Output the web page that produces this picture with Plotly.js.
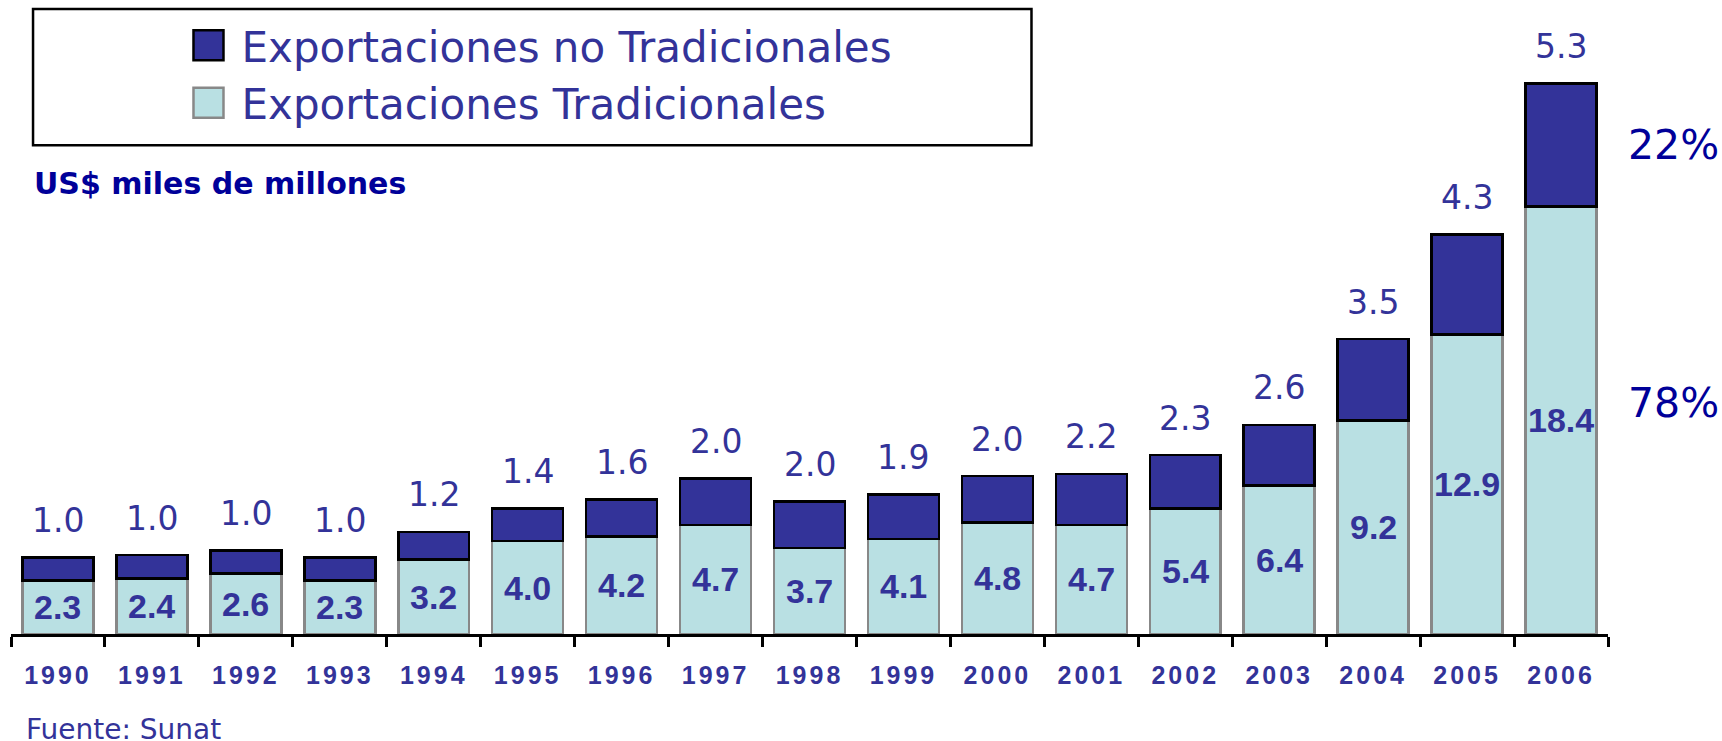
<!DOCTYPE html>
<html>
<head>
<meta charset="utf-8">
<script src="https://cdn.plot.ly/plotly-3.0.1.min.js"></script>
<style>
  html, body { margin: 0; padding: 0; background: #fff; }
  #chart { width: 1722px; height: 741px; }
  .xtick text { letter-spacing: 3px; }
</style>
</head>
<body>
<div id="chart"></div>
<script>
// Peru exports, US$ billions (Fuente: Sunat)
const years = ['1990', '1991', '1992', '1993', '1994', '1995', '1996', '1997', '1998',
               '1999', '2000', '2001', '2002', '2003', '2004', '2005', '2006'];
const tradicionales = [2.3, 2.4, 2.6, 2.3, 3.2, 4.0, 4.2, 4.7, 3.7, 4.1, 4.8, 4.7, 5.4, 6.4, 9.2, 12.9, 18.4];
const noTradicionales = [1.0, 1.0, 1.0, 1.0, 1.2, 1.4, 1.6, 2.0, 2.0, 1.9, 2.0, 2.2, 2.3, 2.6, 3.5, 4.3, 5.3];

const NAVY = '#333399';
const DEEP = '#000099';
const TAHOMA = '"DejaVu Sans", sans-serif';
const ARIAL = '"Liberation Sans", Arial, sans-serif';

const traceTrad = {
    x: years, y: tradicionales,
    type: 'bar',
    name: 'Exportaciones Tradicionales',
    marker: { color: '#B9E0E3', line: { color: '#888888', width: 2.5 } },
    hoverinfo: 'skip',
};

const traceNoTrad = {
    x: years, y: noTradicionales,
    type: 'bar',
    name: 'Exportaciones no Tradicionales',
    marker: { color: NAVY, line: { color: '#000000', width: 2.5 } },
    hoverinfo: 'skip',
};

const annotations = [];

// value labels: inside traditional segment and above each stack
// (x given as category index so the axis stays categorical)
years.forEach((yr, i) => {
    annotations.push({
        x: i, y: tradicionales[i] / 2,
        text: tradicionales[i].toFixed(1),
        showarrow: false,
        font: { family: ARIAL, size: 34, color: NAVY, weight: 'bold' },
    });
    annotations.push({
        x: i, y: tradicionales[i] + noTradicionales[i],
        text: noTradicionales[i].toFixed(1),
        showarrow: false, yshift: 37,
        font: { family: TAHOMA, size: 33, color: NAVY },
    });
});

// share of the last year
const last = years.length - 1;
const total = tradicionales[last] + noTradicionales[last];
annotations.push({
    xref: 'paper', x: 1.011, xanchor: 'left',
    y: tradicionales[last] + noTradicionales[last] / 2,
    text: Math.round(noTradicionales[last] / total * 100) + '%',
    showarrow: false,
    font: { family: TAHOMA, size: 41, color: DEEP },
});
annotations.push({
    xref: 'paper', x: 1.011, xanchor: 'left',
    y: 9.95,
    text: Math.round(tradicionales[last] / total * 100) + '%',
    showarrow: false,
    font: { family: TAHOMA, size: 41, color: DEEP },
});

annotations.push({
    xref: 'paper', yref: 'paper', x: 0.0131, y: 0.711,
    xanchor: 'left', yanchor: 'middle',
    text: 'US$ miles de millones', showarrow: false,
    font: { family: TAHOMA, size: 30, color: DEEP, weight: 'bold' },
});
annotations.push({
    xref: 'paper', yref: 'paper', x: 0.008, y: -0.151,
    xanchor: 'left', yanchor: 'middle',
    text: 'Fuente: Sunat', showarrow: false,
    font: { family: TAHOMA, size: 28, color: NAVY },
});

const layout = {
    width: 1722, height: 741,
    paper_bgcolor: '#ffffff', plot_bgcolor: '#ffffff',
    margin: { l: 11, r: 114, t: 0, b: 107 },
    barmode: 'stack',
    bargap: 0.245,
    showlegend: true,
    legend: {
        x: 0.103, y: 0.982, xanchor: 'left', yanchor: 'top',
        traceorder: 'reversed',
        itemwidth: 56,
        bgcolor: 'rgba(0,0,0,0)', borderwidth: 0,
        font: { family: TAHOMA, size: 42, color: NAVY },
        tracegroupgap: 0,
    },
    xaxis: {
        type: 'category',
        range: [-0.5, years.length - 0.5],
        showline: true, linecolor: '#000000', linewidth: 3,
        ticks: 'outside', tickson: 'boundaries', ticklen: 10, tickwidth: 3, tickcolor: '#000000',
        ticklabelstandoff: 17, tickangle: 0,
        tickfont: { family: ARIAL, size: 25, color: NAVY, weight: 'bold' },
        showgrid: false, zeroline: false, fixedrange: true,
    },
    yaxis: {
        range: [0, 27.3],
        visible: false, showgrid: false, zeroline: false, fixedrange: true,
    },
    shapes: [{
        type: 'rect', xref: 'paper', yref: 'paper',
        x0: 0.0138, x1: 0.639, y0: 0.771, y1: 0.986,
        line: { color: '#000000', width: 2.5 },
        fillcolor: 'rgba(0,0,0,0)',
    }],
    annotations,
};

Plotly.newPlot('chart', [traceTrad, traceNoTrad], layout, { displayModeBar: false, staticPlot: true })
    .then(() => {
        // the original uses big square legend keys
        document.querySelectorAll('#chart .legendpoints path')
            .forEach(p => p.setAttribute('d', 'M15,15H-15V-15H15Z'));
    });
</script>
</body>
</html>
